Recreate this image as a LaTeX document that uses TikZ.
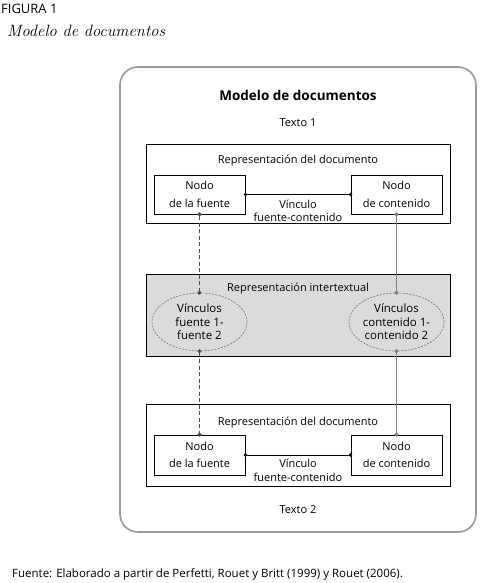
\documentclass[tikz,border=0pt]{standalone}
\usepackage{fontspec}
\setsansfont{Open Sans}
\usetikzlibrary{arrows.meta,shapes.geometric}

\begin{document}
\begin{tikzpicture}[x=1pt,y=-1pt,
  frame/.style={draw=black!40,line width=1.6pt,rounded corners=18pt,minimum width=356pt,minimum height=465pt},
  rep/.style={draw,line width=0.8pt,minimum width=304pt},
  nd/.style={draw,line width=0.8pt,minimum width=91pt,minimum height=39pt,inner sep=0pt,align=center,font=\sffamily\fontsize{11}{17.5}\selectfont},
  ell/.style={ellipse,draw=black!55,dash pattern=on 2pt off 1.3pt,line width=0.6pt,minimum width=95pt,minimum height=58pt,inner sep=0pt,align=center,font=\sffamily\fontsize{11.5}{13.5}\selectfont},
  lab/.style={font=\sffamily\fontsize{11}{13.5}\selectfont,align=center,inner sep=0pt},
  lnk/.style={draw,line width=0.8pt,{Circle[length=3.4pt]}-{Circle[length=3.4pt]},shorten <=-1.7pt,shorten >=-1.7pt},
  gl/.style={draw=black!50,line width=0.8pt,{Circle[length=4pt]}-{Circle[length=4pt]},shorten <=-2pt,shorten >=-2pt},
  dl/.style={gl,draw=black!70,dash pattern=on 4pt off 2.5pt}]
  \useasboundingbox (0,0) rectangle (482,583);
  % ---------- caption ----------
  \node[anchor=west,inner sep=0pt,font=\sffamily\fontsize{13}{15}\selectfont] (fig) at (1,9) {FIGURA 1};
  \node[anchor=west,inner sep=0pt,font=\itshape\fontsize{16.4}{18}\selectfont] (cap) at (7,31) {Modelo de documentos};
  % ---------- model frame ----------
  \node[frame] (mod) at (298,299.5) {};
  \node[font=\sffamily\bfseries\fontsize{13.5}{15}\selectfont,inner sep=0pt] (ttl) at (298,95) {Modelo de documentos};
  \node[lab] (tx1) at (298,123) {Texto 1};
  \node[lab] (tx2) at (298,510) {Texto 2};
  % ---------- text 1 ----------
  \node[rep,minimum height=79pt] (rep1) at (298,183.5) {};
  \node[lab] (rl1) at (298,161) {Representación del documento};
  \node[nd] (src1) at (199.5,194.5) {Nodo\\de la fuente};
  \node[nd] (cnt1) at (396.5,194.5) {Nodo\\de contenido};
  \node[lab] (vl1) at (298,211) {Vínculo\\fuente-contenido};
  \draw[lnk] (src1) -- (cnt1);
  % ---------- intertextual ----------
  \node[rep,fill=black!14,minimum height=82pt] (inter) at (298,315) {};
  \node[lab] (ri) at (298,289) {Representación intertextual};
  \node[ell] (ell1) at (199.5,322) {Vínculos\\fuente 1-\\fuente 2};
  \node[ell] (ell2) at (396.5,322) {Vínculos\\contenido 1-\\contenido 2};
  % ---------- text 2 ----------
  \node[rep,minimum height=82pt] (rep2) at (298,445) {};
  \node[lab] (rl2) at (298,423) {Representación del documento};
  \node[nd,minimum height=40pt] (src2) at (199.5,455) {Nodo\\de la fuente};
  \node[nd,minimum height=40pt] (cnt2) at (396.5,455) {Nodo\\de contenido};
  \node[lab] (vl2) at (298,470.5) {Vínculo\\fuente-contenido};
  \draw[lnk] (src2) -- (cnt2);
  % ---------- connectors ----------
  \draw[dl] (src1.south) -- (ell1.north);
  \draw[dl] (ell1.south) -- (src2.north);
  \draw[gl] (cnt1.south) -- (ell2.north);
  \draw[gl] (ell2.south) -- (cnt2.north);
  % ---------- source ----------
  \node[anchor=west,inner sep=0pt,font=\sffamily\fontsize{11.5}{13}\selectfont] (fnt) at (12,574) {Fuente: Elaborado a partir de Perfetti, Rouet y Britt (1999) y Rouet (2006).};
\end{tikzpicture}
\end{document}
